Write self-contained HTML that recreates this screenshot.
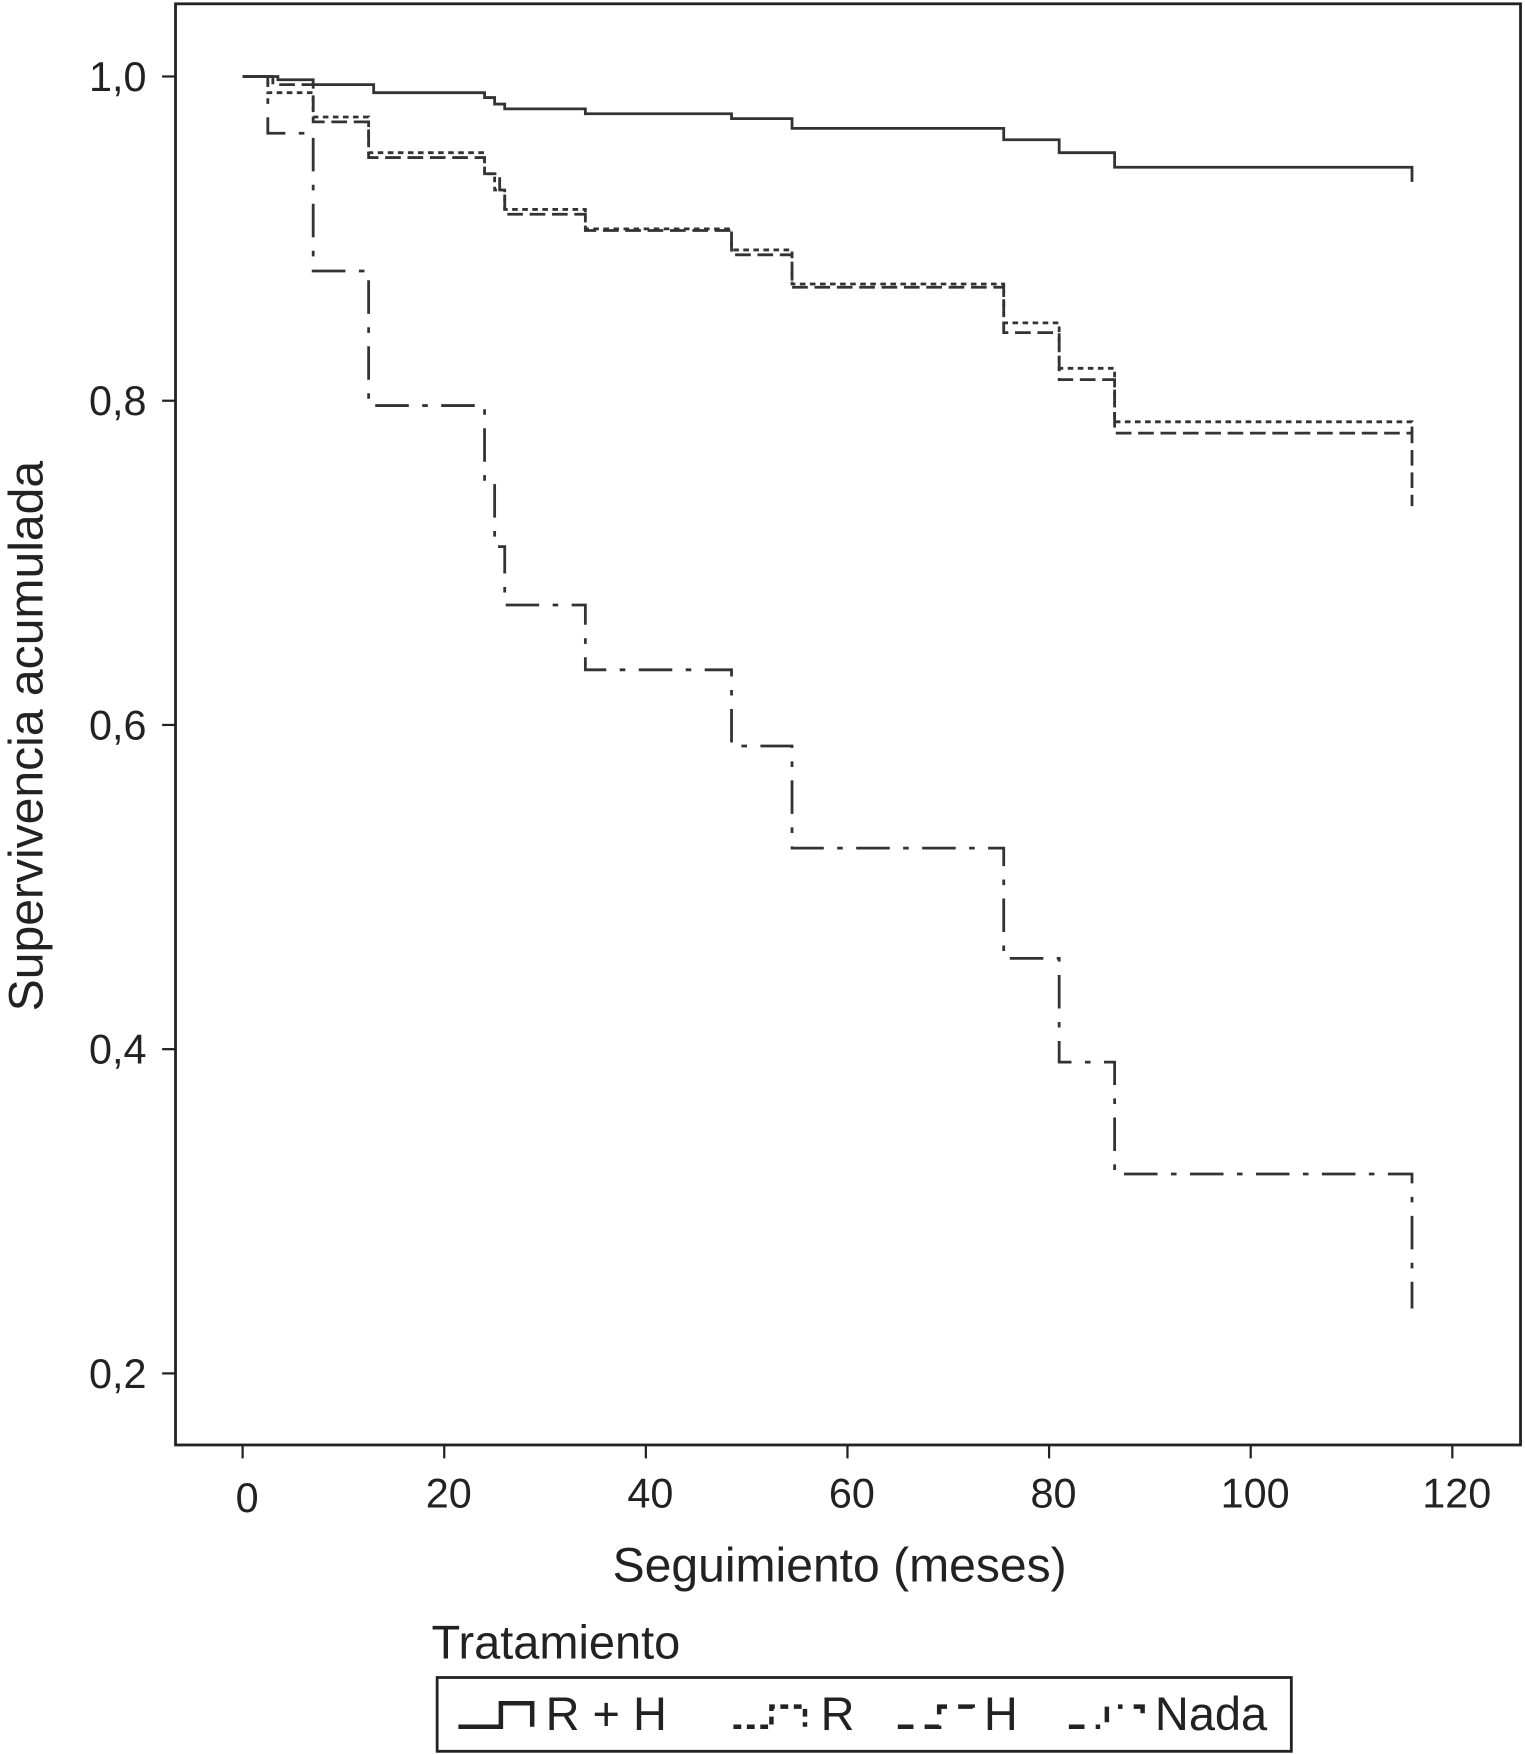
<!DOCTYPE html>
<html><head><meta charset="utf-8"><style>html,body{margin:0;padding:0;background:#fff}svg{display:block}</style></head>
<body>
<svg id="chart" width="1525" height="1754" viewBox="0 0 1364 1568" xmlns="http://www.w3.org/2000/svg" font-family="Liberation Sans, sans-serif" fill="#222">
<rect x="157" y="3" width="1203" height="1289" fill="none" stroke="#222" stroke-width="2.5"/>
<g id="axes"></g>
<g id="series"></g>
<text transform="translate(38,658) rotate(-90)" text-anchor="middle" font-size="43">Supervivencia acumulada</text>
<text x="751" y="1414" text-anchor="middle" font-size="43">Seguimiento (meses)</text>
<text x="386" y="1483" font-size="42">Tratamiento</text>
<g>
<rect x="391" y="1500" width="764" height="66" fill="none" stroke="#222" stroke-width="2.5"/>
<path d="M410 1544 H448 V1523 H476 V1544" fill="none" stroke="#222" stroke-width="4"/>
<text x="488" y="1547" font-size="42">R + H</text>
<path d="M656 1544 H690 V1526 H720 V1544" fill="none" stroke="#222" stroke-width="4" stroke-dasharray="7,5"/>
<text x="734" y="1547" font-size="42">R</text>
<path d="M803 1544 H840 V1526 H870 V1532" fill="none" stroke="#222" stroke-width="4" stroke-dasharray="14,10"/>
<text x="880" y="1547" font-size="42">H</text>
<path d="M956 1544 H990 V1526 H1022 V1532" fill="none" stroke="#222" stroke-width="4" stroke-dasharray="14,10,4,10"/>
<text x="1033" y="1547" font-size="42">Nada</text>
</g>
</svg>
<script>
const xTicks=[0,20,40,60,80,100,120];
const yTicks=[0.2,0.4,0.6,0.8,1.0];
const yTickLabels=["0,2","0,4","0,6","0,8","1,0"];
const timesRH=[0,3.5,7,13,24,25,26,34,48.5,54.5,75.5,81,86.5,116];
const survRH=[1,0.998,0.995,0.99,0.987,0.983,0.98,0.977,0.974,0.968,0.961,0.953,0.944,0.935];
const timesR=[0,2.5,7,12.5,24,25,26,34,48.5,54.5,75.5,81,86.5,116];
const survR=[1,0.99,0.975,0.953,0.94,0.93,0.918,0.906,0.893,0.872,0.848,0.82,0.787,0.78];
const timesH=[0,3,7,12.5,24,25.5,26,34,48.5,54.5,75.5,81,86.5,116];
const survH=[1,0.995,0.972,0.95,0.94,0.93,0.915,0.905,0.89,0.87,0.842,0.813,0.78,0.735];
const timesN=[0,2.5,7,12.5,24,25,26,34,48.5,54.5,75.5,81,86.5,116];
const survN=[1,0.965,0.88,0.797,0.75,0.71,0.674,0.634,0.587,0.524,0.456,0.392,0.323,0.24];
const xs=t=>217+t*(1299-217)/120;
const ys=v=>68+(1-v)*1450;
const NS="http://www.w3.org/2000/svg";
const axes=document.getElementById('axes');
xTicks.forEach(t=>{
 const l=document.createElementNS(NS,'line');
 
 
 l.setAttribute('x1',xs(t));l.setAttribute('x2',xs(t));l.setAttribute('y1',1292);l.setAttribute('y2',1304);l.setAttribute('stroke','#222');l.setAttribute('stroke-width',2);
 axes.appendChild(l);
 const tx=document.createElementNS(NS,'text');
 
 
 tx.setAttribute('x',xs(t)+4);tx.setAttribute('y',t===0?1352:1348);tx.setAttribute('text-anchor','middle');tx.setAttribute('font-size','37');
 tx.textContent=t;axes.appendChild(tx);
});
yTicks.forEach((v,i)=>{
 const l=document.createElementNS(NS,'line');
 
 
 l.setAttribute('x1',145);l.setAttribute('x2',157);l.setAttribute('y1',ys(v));l.setAttribute('y2',ys(v));l.setAttribute('stroke','#222');l.setAttribute('stroke-width',2);
 axes.appendChild(l);
 const tx=document.createElementNS(NS,'text');
 
 
 tx.setAttribute('x',131);tx.setAttribute('y',ys(v)+13);tx.setAttribute('text-anchor','end');tx.setAttribute('font-size','37');
 tx.textContent=yTickLabels[i];axes.appendChild(tx);
});
function step(times,surv){
 let d='M'+xs(times[0])+' '+ys(surv[0]);
 for(let i=1;i<times.length;i++){d+=' H'+xs(times[i])+' V'+ys(surv[i]);}
 return d;
}
const g=document.getElementById('series');
function add(name,times,surv,dash,w){
 const p=document.createElementNS(NS,'path');
 
 
 p.setAttribute('d',step(times,surv));p.setAttribute('fill','none');p.setAttribute('stroke','#333');p.setAttribute('stroke-width',w);
 if(dash)p.setAttribute('stroke-dasharray',dash);
 g.appendChild(p);
}
add('series-nada',timesN,survN,'30,12,5,12',2.5);
add('series-h',timesH,survH,'14,6',2.5);
add('series-r',timesR,survR,'5,4',2.5);
add('series-rh',timesRH,survRH,null,2.5);
</script>
</body></html>
